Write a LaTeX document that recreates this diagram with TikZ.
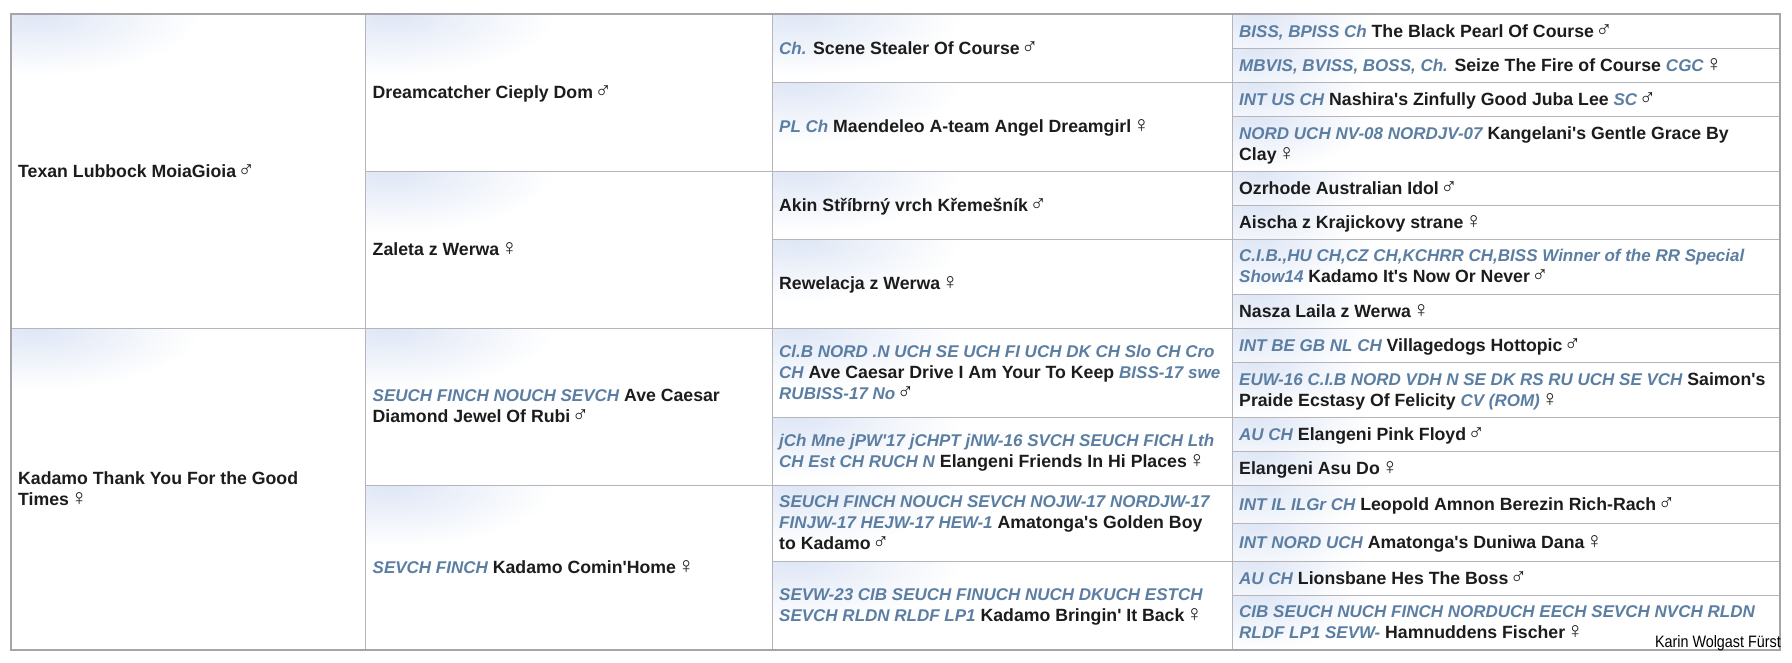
\documentclass[tikz,border=0pt]{standalone}
\usepackage{fontspec}
\setmainfont{Liberation Sans}
\newfontfamily\symfont{Liberation Sans}
\definecolor{ttl}{RGB}{91,126,163}
\definecolor{txtc}{RGB}{28,28,28}
\definecolor{glow}{RGB}{222,230,245}
\definecolor{gridc}{RGB}{180,180,186}
\definecolor{framec}{RGB}{165,165,168}
\newcommand{\Ttl}[1]{{\fontsize{17}{21}\selectfont\itshape\color{ttl}#1}}
\newcommand{\Ma}{\unskip\hspace{1.5pt}{\fontsize{23}{21}\selectfont\mdseries\symfont ♂}}
\newcommand{\Fe}{\unskip\hspace{1.5pt}{\fontsize{23}{21}\selectfont\mdseries\symfont ♀}}
\newcommand{\Ap}{\textquotesingle}
\newcommand{\PStrut}{\rule[-4.4pt]{0pt}{17pt}}
\def\gx{165pt}\def\gy{62pt}
\newcommand{\PedCell}[6]{%
  \begin{scope}
    \clip (#1,#2) rectangle (#3,#4);
    \shade[inner color=glow, outer color=white] ({#1+25},#2) ellipse [x radius=\gx, y radius=\gy];
  \end{scope}
  \draw[gridline] (#1,#2) rectangle (#3,#4);
  \node[celltext] (#5) at ({#1+7},{(#2+#4)/2+2}) {#6};
}
\begin{document}
\begin{tikzpicture}[x=1pt,y=-1pt,
  gridline/.style={draw=gridc, line width=1pt},
  celltext/.style={anchor=west, inner sep=0pt, align=left, text=txtc,
    font=\fontsize{17.7}{21}\selectfont\bfseries,
    execute at begin node=\PStrut, execute at end node=\PStrut},
  sig/.style={inner sep=0pt, text=black, font=\fontsize{16.5}{18}\selectfont}]
\fill[white] (0,0) rectangle (1792,662);
\useasboundingbox (0,0) rectangle (1792,662);
% generation 1
\PedCell{11}{14}{365.5}{328}{a1}{Texan Lubbock MoiaGioia \Ma}
\PedCell{11}{328}{365.5}{650}{a2}{Kadamo Thank You For the Good\\Times \Fe}
% generation 2
\PedCell{365.5}{14}{772}{171}{b1}{Dreamcatcher Cieply Dom \Ma}
\PedCell{365.5}{171}{772}{328}{b2}{Zaleta z Werwa \Fe}
\PedCell{365.5}{328}{772}{485}{b3}{\Ttl{SEUCH FINCH NOUCH SEVCH} Ave Caesar\\Diamond Jewel Of Rubi \Ma}
\PedCell{365.5}{485}{772}{650}{b4}{\Ttl{SEVCH FINCH} Kadamo Comin\Ap Home \Fe}
% generation 3
\PedCell{772}{14}{1232}{82}{c1}{\Ttl{Ch.} Scene Stealer Of Course \Ma}
\PedCell{772}{82}{1232}{171}{c2}{\Ttl{PL Ch} Maendeleo A-team Angel Dreamgirl \Fe}
\PedCell{772}{171}{1232}{239}{c3}{Akin Stříbrný vrch Křemešník \Ma}
\PedCell{772}{239}{1232}{328}{c4}{Rewelacja z Werwa \Fe}
\PedCell{772}{328}{1232}{417}{c5}{\Ttl{Cl.B NORD .N UCH SE UCH FI UCH DK CH Slo CH Cro}\\\Ttl{CH} Ave Caesar Drive I Am Your To Keep \Ttl{BISS-17 swe}\\\Ttl{RUBISS-17 No} \Ma}
\PedCell{772}{417}{1232}{485}{c6}{\Ttl{jCh Mne jPW\Ap17 jCHPT jNW-16 SVCH SEUCH FICH Lth}\\\Ttl{CH Est CH RUCH N} Elangeni Friends In Hi Places \Fe}
\PedCell{772}{485}{1232}{561}{c7}{\Ttl{SEUCH FINCH NOUCH SEVCH NOJW-17 NORDJW-17}\\\Ttl{FINJW-17 HEJW-17 HEW-1} Amatonga\Ap s Golden Boy\\to Kadamo \Ma}
\PedCell{772}{561}{1232}{650}{c8}{\Ttl{SEVW-23 CIB SEUCH FINUCH NUCH DKUCH ESTCH}\\\Ttl{SEVCH RLDN RLDF LP1} Kadamo Bringin\Ap{} It Back \Fe}
% generation 4
\def\gx{115pt}\def\gy{55pt}
\PedCell{1232}{14}{1780}{48}{d1}{\Ttl{BISS, BPISS Ch} The Black Pearl Of Course \Ma}
\PedCell{1232}{48}{1780}{82}{d2}{\Ttl{MBVIS, BVISS, BOSS, Ch.} Seize The Fire of Course \Ttl{CGC} \Fe}
\PedCell{1232}{82}{1780}{116}{d3}{\Ttl{INT US CH} Nashira\Ap s Zinfully Good Juba Lee \Ttl{SC} \Ma}
\PedCell{1232}{116}{1780}{171}{d4}{\Ttl{NORD UCH NV-08 NORDJV-07} Kangelani\Ap s Gentle Grace By\\Clay \Fe}
\PedCell{1232}{171}{1780}{205}{d5}{Ozrhode Australian Idol \Ma}
\PedCell{1232}{205}{1780}{239}{d6}{Aischa z Krajickovy strane \Fe}
\PedCell{1232}{239}{1780}{294}{d7}{\Ttl{C.I.B.,HU CH,CZ CH,KCHRR CH,BISS Winner of the RR Special}\\\Ttl{Show14} Kadamo It\Ap s Now Or Never \Ma}
\PedCell{1232}{294}{1780}{328}{d8}{Nasza Laila z Werwa \Fe}
\PedCell{1232}{328}{1780}{362}{d9}{\Ttl{INT BE GB NL CH} Villagedogs Hottopic \Ma}
\PedCell{1232}{362}{1780}{417}{d10}{\Ttl{EUW-16 C.I.B NORD VDH N SE DK RS RU UCH SE VCH} Saimon\Ap s\\Praide Ecstasy Of Felicity \Ttl{CV (ROM)} \Fe}
\PedCell{1232}{417}{1780}{451}{d11}{\Ttl{AU CH} Elangeni Pink Floyd \Ma}
\PedCell{1232}{451}{1780}{485}{d12}{Elangeni Asu Do \Fe}
\PedCell{1232}{485}{1780}{523}{d13}{\Ttl{INT IL ILGr CH} Leopold Amnon Berezin Rich-Rach \Ma}
\PedCell{1232}{523}{1780}{561}{d14}{\Ttl{INT NORD UCH} Amatonga\Ap s Duniwa Dana \Fe}
\PedCell{1232}{561}{1780}{595}{d15}{\Ttl{AU CH} Lionsbane Hes The Boss \Ma}
\PedCell{1232}{595}{1780}{650}{d16}{\Ttl{CIB SEUCH NUCH FINCH NORDUCH EECH SEVCH NVCH RLDN}\\\Ttl{RLDF LP1 SEVW-} Hamnuddens Fischer \Fe}
% outer frame
\draw[draw=framec, line width=1.3pt] (11,14) rectangle (1780,650);
\node[sig, anchor=base east] (sig) at (1781,647) {\scalebox{0.87}[1]{Karin Wolgast Fürst}};
\end{tikzpicture}
\end{document}
